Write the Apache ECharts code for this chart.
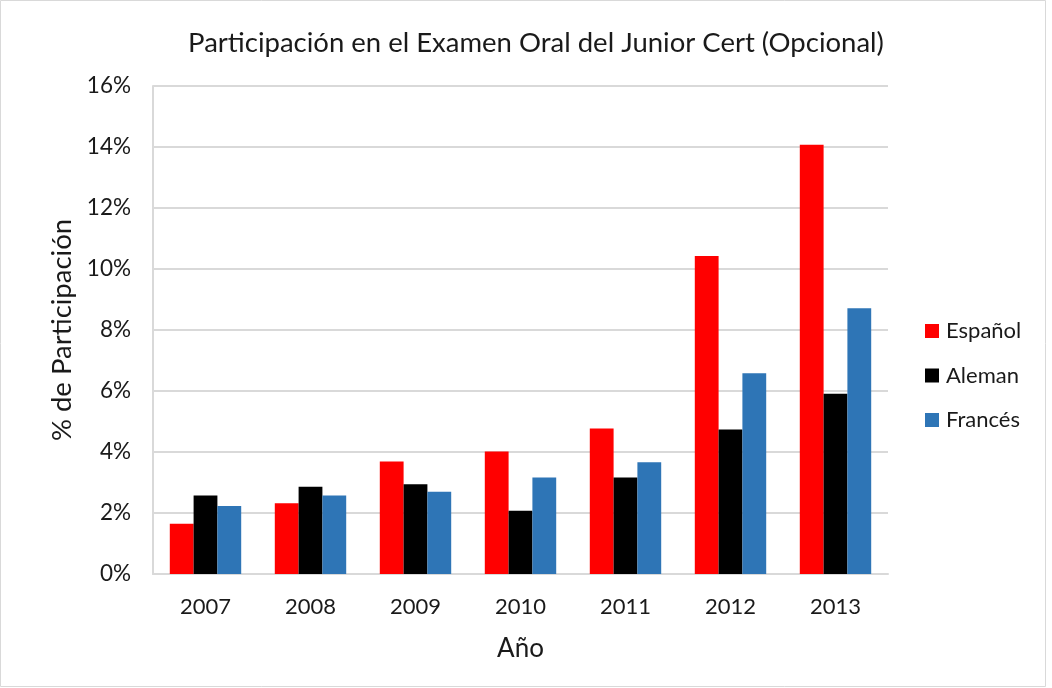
<!DOCTYPE html>
<html><head><meta charset="utf-8">
<script src="https://cdn.jsdelivr.net/npm/echarts@6/dist/echarts.min.js"></script>
<style>html,body{margin:0;padding:0;background:#fff}#c{width:1052px;height:688px}</style>
</head><body><div id="c"></div>
<script>
const categories = ['2007','2008','2009','2010','2011','2012','2013'];
const espanol = [1.65, 2.32, 3.69, 4.02, 4.77, 10.43, 14.07];
const aleman  = [2.57, 2.86, 2.94, 2.07, 3.16, 4.74, 5.91];
const frances = [2.23, 2.57, 2.70, 3.16, 3.66, 6.58, 8.71];
const seriesNames = ['Español','Aleman','Francés'];
const colors = ['#FF0000','#000000','#2E75B6'];
const font = 'Lato, sans-serif';

const chart = echarts.init(document.getElementById('c'), null, {renderer:'canvas'});
chart.setOption({
  animation:false,
  backgroundColor:'#fff',
  title:{text:'Participación en el Examen Oral del Junior Cert (Opcional)',left:531,top:24,textAlign:'center',
    textStyle:{fontFamily:font,fontSize:27.5,fontWeight:'normal',color:'#1a1a1a'}},
  grid:{left:153,right:164,top:86,bottom:114},
  legend:{orient:'vertical',left:920,top:315,itemWidth:14,itemHeight:14,itemGap:22.5,icon:'rect',
    textStyle:{fontFamily:font,fontSize:22,color:'#1a1a1a',padding:[0,0,0,2]},data:seriesNames},
  xAxis:{type:'category',data:categories,name:'Año',nameLocation:'middle',nameGap:62,
    nameTextStyle:{fontFamily:font,fontSize:26,color:'#1a1a1a'},
    axisLine:{lineStyle:{color:'#d9d9d9',width:2}},axisTick:{show:false},
    axisLabel:{fontFamily:font,fontSize:22,color:'#1a1a1a',margin:22}},
  yAxis:{type:'value',min:0,max:16,interval:2,name:'% de Participación',nameLocation:'middle',nameGap:77,nameRotate:90,
    nameTextStyle:{fontFamily:font,fontSize:27.5,color:'#1a1a1a'},
    axisLine:{show:true,lineStyle:{color:'#d9d9d9',width:2}},axisTick:{show:false},
    splitLine:{lineStyle:{color:'#d9d9d9',width:2}},
    axisLabel:{fontFamily:font,fontSize:22.5,color:'#1a1a1a',margin:22,formatter:v=>v+'%'}},
  series:[espanol,aleman,frances].map((d,i)=>({
    name:seriesNames[i],type:'bar',data:d,barGap:'0%',barCategoryGap:'32%',
    itemStyle:{color:colors[i]}
  })),
  graphic:[{type:'rect',shape:{x:0.5,y:0.5,width:1045,height:686},style:{fill:'none',stroke:'#d9d9d9',lineWidth:1},silent:true}]
});
</script></body></html>
